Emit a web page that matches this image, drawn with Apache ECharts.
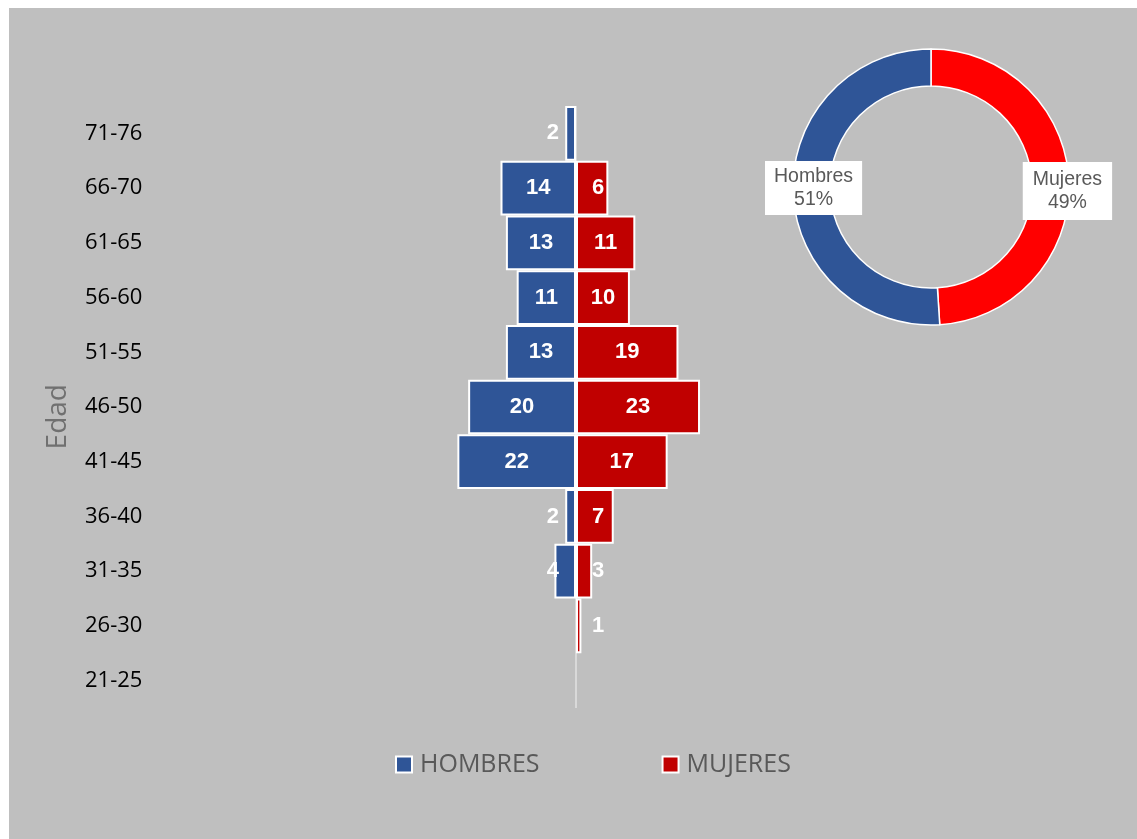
<!DOCTYPE html>
<html>
<head>
<meta charset="utf-8">
<script src="https://cdn.jsdelivr.net/npm/echarts@6/dist/echarts.min.js"></script>
<style>
  html, body { margin: 0; padding: 0; background: #ffffff; }
  #chart { position: absolute; left: 9px; top: 8px; width: 1128px; height: 831px; }
</style>
</head>
<body>
<div id="chart"></div>
<script>
// Age groups, bottom to top (category axis draws upward)
const ageGroups = ["21-25", "26-30", "31-35", "36-40", "41-45", "46-50", "51-55", "56-60", "61-65", "66-70", "71-76"];
const hombres = [0, 0, 4, 2, 22, 20, 13, 11, 13, 14, 2];
const mujeres = [0, 1, 3, 7, 17, 23, 19, 10, 11, 6, 0];

const pieNames = ["Mujeres", "Hombres"];
const pieTotals = [
  mujeres.reduce((a, b) => a + b, 0),
  hombres.reduce((a, b) => a + b, 0),
];

const BLUE = "#2F5597";
const RED = "#C00000";
const PIE_RED = "#FF0000";

const barLabel = {
  show: true,
  color: "#ffffff",
  fontFamily: "Liberation Sans, Arial, sans-serif",
  fontWeight: "bold",
  fontSize: 22,
  formatter: (p) => (p.value ? Math.abs(p.value) : ""),
};

function barData(values, side) {
  return values.map((v) => {
    if (!v) return "-";
    const item = { value: side === "left" ? -v : v };
    if (v < 8) {
      // small bars: number sits just beside the centre line
      item.label = side === "left"
        ? { position: "insideRight", distance: 17 }
        : { position: "insideLeft", distance: 16 };
    }
    return item;
  });
}

const chart = echarts.init(document.getElementById("chart"));

const option = {
  animation: false,
  backgroundColor: "#bfbfbf",
  textStyle: { fontFamily: "Open Sans, sans-serif" },
  grid: { left: 141, right: 135, top: 98, bottom: 131 },
  xAxis: {
    type: "value",
    min: -79,
    max: 79,
    show: false,
  },
  yAxis: {
    type: "category",
    data: ageGroups,
    axisLine: { show: false },
    axisTick: { show: false },
    splitLine: { show: false },
    axisLabel: {
      align: "left",
      margin: 65,
      color: "#000000",
      fontSize: 22,
      fontFamily: "Open Sans, sans-serif",
      padding: [4, 0, 0, 0],
    },
  },
  legend: {
    data: ["HOMBRES", "MUJERES"],
    left: 386,
    top: 744,
    padding: 0,
    icon: "rect",
    itemWidth: 16,
    itemHeight: 16,
    itemGap: 122,
    textStyle: {
      color: "#595959",
      fontSize: 25,
      fontFamily: "Open Sans, sans-serif",
      padding: [0, 0, 0, 3],
    },
  },
  graphic: [
    {
      type: "text",
      left: 35,
      top: 376,
      rotation: Math.PI / 2,
      style: {
        text: "Edad",
        fill: "#707070",
        font: "28px Open Sans, sans-serif",
      },
    },
  ],
  series: [
    {
      name: "HOMBRES",
      type: "bar",
      stack: "pop",
      barCategoryGap: "0%",
      data: barData(hombres, "left"),
      itemStyle: { color: BLUE, borderColor: "#ffffff", borderWidth: 2 },
      label: Object.assign({ position: "inside" }, barLabel),
      markLine: {
        silent: true,
        symbol: "none",
        z: 1,
        label: { show: false },
        lineStyle: { color: "#d9d9d9", width: 2, type: "solid" },
        data: [{ xAxis: 0 }],
      },
    },
    {
      name: "MUJERES",
      type: "bar",
      stack: "pop",
      barCategoryGap: "0%",
      data: barData(mujeres, "right"),
      itemStyle: { color: RED, borderColor: "#ffffff", borderWidth: 2 },
      label: Object.assign({ position: "inside" }, barLabel),
    },
    {
      name: "Sexo",
      type: "pie",
      center: [922, 179],
      radius: [101, 138],
      startAngle: 90,
      clockwise: true,
      percentPrecision: 0,
      itemStyle: { borderColor: "#ffffff", borderWidth: 1.5 },
      labelLine: { show: false },
      label: {
        show: true,
        position: "inside",
        formatter: "{b}\n{d}%",
        color: "#595959",
        fontSize: 19.5,
        lineHeight: 23,
        fontFamily: "Liberation Sans, Arial, sans-serif",
        backgroundColor: "#ffffff",
        padding: [4, 9],
      },
      data: pieNames.map((n, i) => ({
        name: n,
        value: pieTotals[i],
        itemStyle: { color: i === 0 ? PIE_RED : BLUE },
        label: i === 0 ? { offset: [14, 8], padding: [6, 10] } : { offset: [5, -3] },
      })),
    },
  ],
};

chart.setOption(option);
</script>
</body>
</html>
